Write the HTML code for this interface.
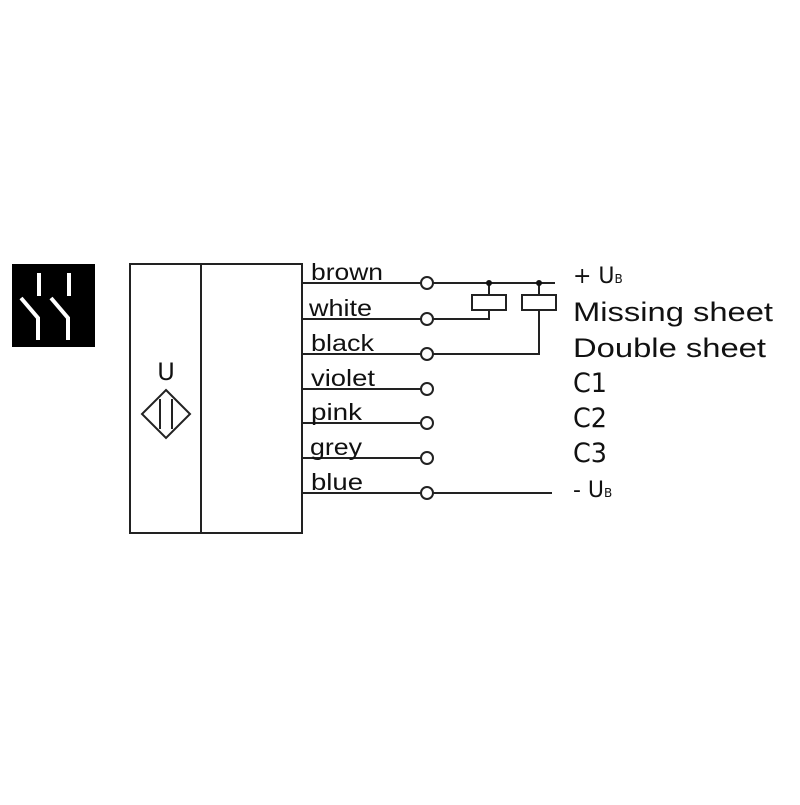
<!DOCTYPE html>
<html><head><style>body{margin:0;background:#fff}</style></head><body>
<svg width="800" height="800" viewBox="0 0 800 800" xmlns="http://www.w3.org/2000/svg" font-family="Liberation Sans, sans-serif">
<rect width="800" height="800" fill="#fff"/>
<rect x="12" y="264" width="83" height="83" fill="#000"/>
<g stroke="#fff" stroke-width="4" fill="none">
<path d="M39 273V296M21 298L38 318V340"/>
<path d="M69 273V296M51 298L68 318V340"/>
</g>
<g stroke="#222" stroke-width="2" fill="none">
<rect x="130" y="264" width="172" height="269"/>
<line x1="201" y1="264" x2="201" y2="533"/>
<path d="M166 390L190 414L166 438L142 414Z"/>
<line x1="160" y1="399" x2="160" y2="429"/>
<line x1="172" y1="399" x2="172" y2="429"/>
<path d="M302 283H421M433 283H555"/>
<path d="M302 319H421M433 319H489V310"/>
<path d="M302 354H421M433 354H539V310"/>
<path d="M302 389H421M302 423H421M302 458H421"/>
<path d="M302 493H421M433 493H552"/>
<rect x="472" y="295" width="34" height="15"/>
<rect x="522" y="295" width="34" height="15"/>
<path d="M489 283V295M539 283V295"/>
<circle cx="427" cy="283" r="6" fill="#fff"/>
<circle cx="427" cy="319" r="6" fill="#fff"/>
<circle cx="427" cy="354" r="6" fill="#fff"/>
<circle cx="427" cy="389" r="6" fill="#fff"/>
<circle cx="427" cy="423" r="6" fill="#fff"/>
<circle cx="427" cy="458" r="6" fill="#fff"/>
<circle cx="427" cy="493" r="6" fill="#fff"/>
</g>
<circle cx="489" cy="283" r="3" fill="#111"/>
<circle cx="539" cy="283" r="3" fill="#111"/>
<text x="166" y="380" font-size="24" text-anchor="middle" fill="#111" font-family="DejaVu Sans, sans-serif">U</text>
<g font-size="23" fill="#111">
<text x="311" y="280" textLength="72" lengthAdjust="spacingAndGlyphs">brown</text>
<text x="309" y="316" textLength="63" lengthAdjust="spacingAndGlyphs">white</text>
<text x="311" y="351" textLength="63" lengthAdjust="spacingAndGlyphs">black</text>
<text x="311" y="386" textLength="64" lengthAdjust="spacingAndGlyphs">violet</text>
<text x="311" y="420" textLength="51" lengthAdjust="spacingAndGlyphs">pink</text>
<text x="310" y="455" textLength="52" lengthAdjust="spacingAndGlyphs">grey</text>
<text x="311" y="490" textLength="52" lengthAdjust="spacingAndGlyphs">blue</text>
</g>
<g font-size="27" fill="#111">
<text x="573" y="321" textLength="200" lengthAdjust="spacingAndGlyphs">Missing sheet</text>
<text x="573" y="357" textLength="193" lengthAdjust="spacingAndGlyphs">Double sheet</text>
</g>
<g font-size="27" fill="#111" font-family="DejaVu Sans, sans-serif">
<text x="573" y="392" textLength="34" lengthAdjust="spacingAndGlyphs">C1</text>
<text x="573" y="427" textLength="34" lengthAdjust="spacingAndGlyphs">C2</text>
<text x="573" y="462" textLength="34" lengthAdjust="spacingAndGlyphs">C3</text>
</g>
<g font-size="22" fill="#111" font-family="DejaVu Sans, sans-serif">
<text x="573" y="283">+ U<tspan font-size="12">B</tspan></text>
<text x="573" y="497">- U<tspan font-size="12">B</tspan></text>
</g>
</svg>
</body></html>
